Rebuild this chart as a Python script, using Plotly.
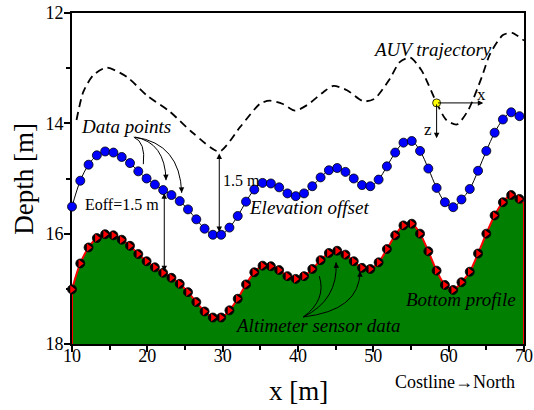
import plotly.graph_objects as go

# ---------------- data ----------------
x_pts = [10.0, 11.1, 12.2, 13.3, 14.4, 15.5, 16.6, 17.7, 18.8, 19.9, 21.0, 22.1, 23.2, 24.3,
         25.4, 26.5, 27.6, 28.7, 29.8, 30.9, 32.0, 33.1, 34.2, 35.3, 36.4, 37.5, 38.6, 39.7,
         40.8, 41.9, 43.0, 44.1, 45.2, 46.3, 47.4, 48.5, 49.6, 50.7, 51.8, 52.9, 54.0, 55.1,
         56.2, 57.3, 58.4, 59.5, 60.6, 61.7, 62.8, 63.9, 65.0, 66.1, 67.2, 68.3, 69.4]
bottom_depth = [17.01, 16.54, 16.25, 16.08, 16.01, 16.03, 16.11, 16.22, 16.37, 16.50, 16.61, 16.71,
                16.80, 16.91, 17.06, 17.24, 17.41, 17.52, 17.52, 17.39, 17.18, 16.92, 16.70, 16.58,
                16.59, 16.66, 16.77, 16.82, 16.77, 16.64, 16.48, 16.35, 16.31, 16.38, 16.50, 16.62,
                16.64, 16.52, 16.28, 16.03, 15.85, 15.82, 16.00, 16.32, 16.67, 16.93, 17.02, 16.88,
                16.69, 16.36, 16.00, 15.67, 15.43, 15.30, 15.37]
elev_depth = [15.51, 15.04, 14.75, 14.58, 14.51, 14.53, 14.61, 14.72, 14.87, 15.00, 15.11, 15.21,
              15.30, 15.41, 15.56, 15.74, 15.91, 16.02, 16.02, 15.89, 15.68, 15.42, 15.20, 15.08,
              15.09, 15.16, 15.27, 15.32, 15.27, 15.14, 14.98, 14.85, 14.81, 14.88, 15.00, 15.12,
              15.14, 15.02, 14.78, 14.53, 14.35, 14.32, 14.50, 14.82, 15.17, 15.43, 15.52, 15.38,
              15.19, 14.86, 14.50, 14.17, 13.93, 13.80, 13.87]
bottom_edge_x = [70.0]
bottom_edge_depth = [15.45]

auv_x = [10.6, 11.5, 12.8, 14.6, 17.3, 19.9, 23.0, 26.1, 29.55, 32.3, 35.0, 36.3, 38.0, 39.6,
         41.2, 43.4, 44.7, 46.5, 48.7, 50.2, 52.2, 53.5, 54.9, 56.4, 58.4, 59.7, 61.1, 62.6,
         64.4, 65.5, 67.2, 68.4, 70.0]
auv_depth = [13.94, 13.43, 13.13, 12.99, 13.16, 13.49, 13.79, 14.18, 14.51, 14.07, 13.64, 13.59,
             13.65, 13.77, 13.67, 13.43, 13.32, 13.40, 13.60, 13.55, 13.19, 12.89, 12.81, 13.04,
             13.63, 13.94, 14.02, 13.76, 13.16, 12.74, 12.40, 12.36, 12.50]
auv_pos_x = [58.4]
auv_pos_depth = [13.63]

x_range = [10, 70]
depth_range = [18, 12]
x_ticks = [10, 20, 30, 40, 50, 60, 70]
y_ticks = [12, 14, 16, 18]

SERIF = "Liberation Serif"
GREEN = "#007F00"

fig = go.Figure()

# baseline for the filled bottom
fig.add_trace(go.Scatter(x=[x_range[0], x_range[1]], y=[depth_range[0], depth_range[0]],
                         mode="lines", line=dict(width=0, color=GREEN), hoverinfo="skip",
                         showlegend=False))
# bottom profile (filled)
fig.add_trace(go.Scatter(x=x_pts + bottom_edge_x, y=bottom_depth + bottom_edge_depth,
                         mode="lines", line=dict(color="red", width=2, shape="spline"),
                         fill="tonexty", fillcolor=GREEN, showlegend=False))
# red vertical edges
fig.add_trace(go.Scatter(x=[x_range[0], x_range[0], None, bottom_edge_x[0], bottom_edge_x[0]],
                         y=[bottom_depth[0], depth_range[0], None, bottom_edge_depth[0], depth_range[0]],
                         mode="lines", line=dict(color="red", width=2), showlegend=False,
                         cliponaxis=False))
# elevation-offset line with data points
fig.add_trace(go.Scatter(x=x_pts, y=elev_depth, mode="lines+markers",
                         line=dict(color="black", width=1, shape="spline"),
                         marker=dict(color="#0000FF", size=9, line=dict(color="black", width=0.8)),
                         cliponaxis=False, showlegend=False))
# altimeter data markers (half black / half red)
fig.add_trace(go.Scatter(x=x_pts, y=bottom_depth, mode="markers",
                         marker=dict(color="black", size=9, line=dict(color="black", width=0.8)),
                         cliponaxis=False, showlegend=False))
fig.add_trace(go.Scatter(x=x_pts, y=bottom_depth, mode="markers",
                         marker=dict(symbol="triangle-right", color="red", size=7,
                                     line=dict(width=0)),
                         cliponaxis=False, showlegend=False))
# AUV trajectory
fig.add_trace(go.Scatter(x=auv_x, y=auv_depth, mode="lines",
                         line=dict(color="black", width=1.8, dash="8px,5px", shape="spline",
                                   smoothing=0.7),
                         showlegend=False))

annotations = []
shapes = []


def arrow(x0, y0, x1, y1, both=False, head=2):
    annotations.append(dict(x=x1, y=y1, ax=x0, ay=y0, xref="x", yref="y", axref="x", ayref="y",
                            text="", showarrow=True, arrowhead=head, arrowsize=1.1,
                            arrowwidth=1, arrowcolor="black",
                            arrowside="end+start" if both else "end",
                            startarrowhead=head, startarrowsize=1.1, standoff=0, startstandoff=0))


def curved_arrow(x0, y0, cx, cy, x1, y1):
    shapes.append(dict(type="path", xref="x", yref="y",
                       path=f"M {x0},{y0} Q {cx},{cy} {x1},{y1}",
                       line=dict(color="black", width=1)))
    t = 0.12
    arrow(x1 + t * (cx - x1), y1 + t * (cy - y1), x1, y1)


# coordinate frame at the AUV
arrow(auv_pos_x[0], auv_pos_depth[0], 64.6, auv_pos_depth[0])
arrow(auv_pos_x[0], auv_pos_depth[0], auv_pos_x[0], 14.27)
# 1.5 m offset arrows
arrow(29.55, 14.52, 29.55, 15.97, both=True)
arrow(22.25, 15.24, 22.25, 16.68, both=True)

# curved arrows for "Data points"
curved_arrow(18.2, 14.25, 19.8, 14.34, 19.47, 14.74)
curved_arrow(18.3, 14.25, 22.35, 14.34, 22.48, 15.03)
curved_arrow(18.4, 14.25, 24.34, 14.37, 24.56, 15.26)
# curved arrows for "Altimeter sensor data"
curved_arrow(40.71, 17.51, 43.8, 17.2, 42.83, 16.77)
curved_arrow(40.71, 17.51, 45.35, 17.2, 45.05, 16.52)
curved_arrow(40.71, 17.51, 48.23, 17.39, 48.23, 16.68)


def label(text, x, y, size=18, italic=True, xanchor="center", xref="x", yref="y", angle=0):
    annotations.append(dict(text=f"<i>{text}</i>" if italic else text, x=x, y=y,
                            xref=xref, yref=yref, showarrow=False,
                            xanchor=xanchor, yanchor="middle", textangle=angle,
                            font=dict(family=SERIF, size=size, color="black")))


label("AUV trajectory", 57.8, 12.66, size=19)
label("Data points", 17.15, 14.05, size=19)
label("Eoff=1.5 m", 11.45, 15.48, size=16, italic=False, xanchor="left")
label("1.5 m", 29.8, 15.03, size=16, italic=False, xanchor="left")
label("Elevation offset", 41.45, 15.52, size=19)
label("Altimeter sensor data", 42.7, 17.66, size=19)
label("Bottom profile", 61.7, 17.2, size=19)
label("x", 64.4, 13.48, size=17, italic=False)
label("z", 57.3, 14.12, size=17, italic=False)
label("Costline→North", 60.8, -0.115, size=18, italic=False, yref="paper")
label("x [m]", 0.5, -0.143, size=27, italic=False, xref="paper", yref="paper")
label("Depth [m]", -0.108, 0.5, size=27, italic=False, xref="paper", yref="paper", angle=-90)

# AUV position (yellow dot)
fig.add_trace(go.Scatter(x=auv_pos_x, y=auv_pos_depth, mode="markers",
                         marker=dict(color="yellow", size=8, line=dict(color="black", width=0.8)),
                         showlegend=False))

fig.update_layout(
    width=534, height=410,
    margin=dict(l=72, r=10, t=13, b=66, autoexpand=False),
    paper_bgcolor="white", plot_bgcolor="white",
    showlegend=False,
    annotations=annotations, shapes=shapes,
    xaxis=dict(range=x_range, tickvals=x_ticks, ticks="outside", ticklen=6, tickwidth=2,
               tickcolor="black", showline=True, linecolor="black", linewidth=2, mirror=True,
               showgrid=False, zeroline=False, automargin=False, ticklabelstandoff=-12,
               ticklabeloverflow="allow",
               tickfont=dict(family=SERIF, size=18, color="black"),
               minor=dict(dtick=5, tick0=5, ticks="outside", ticklen=4, tickwidth=2,
                          tickcolor="black", showgrid=False)),
    yaxis=dict(range=depth_range, tickvals=y_ticks, ticks="outside", ticklen=6, tickwidth=2,
               tickcolor="black", showline=True, linecolor="black", linewidth=2, mirror=True,
               showgrid=False, zeroline=False, layer="below traces", automargin=False,
               ticklabelstandoff=-3, ticklabeloverflow="allow",
               tickfont=dict(family=SERIF, size=18, color="black"),
               minor=dict(dtick=1, tick0=13, ticks="outside", ticklen=4, tickwidth=2,
                          tickcolor="black", showgrid=False)),
)

# remove the default page margin so the 534x410 figure fills the window exactly
fig.write_html("out.html", config={"displayModeBar": False},
               post_script="document.body.style.margin='0';document.body.style.overflow='hidden';")
